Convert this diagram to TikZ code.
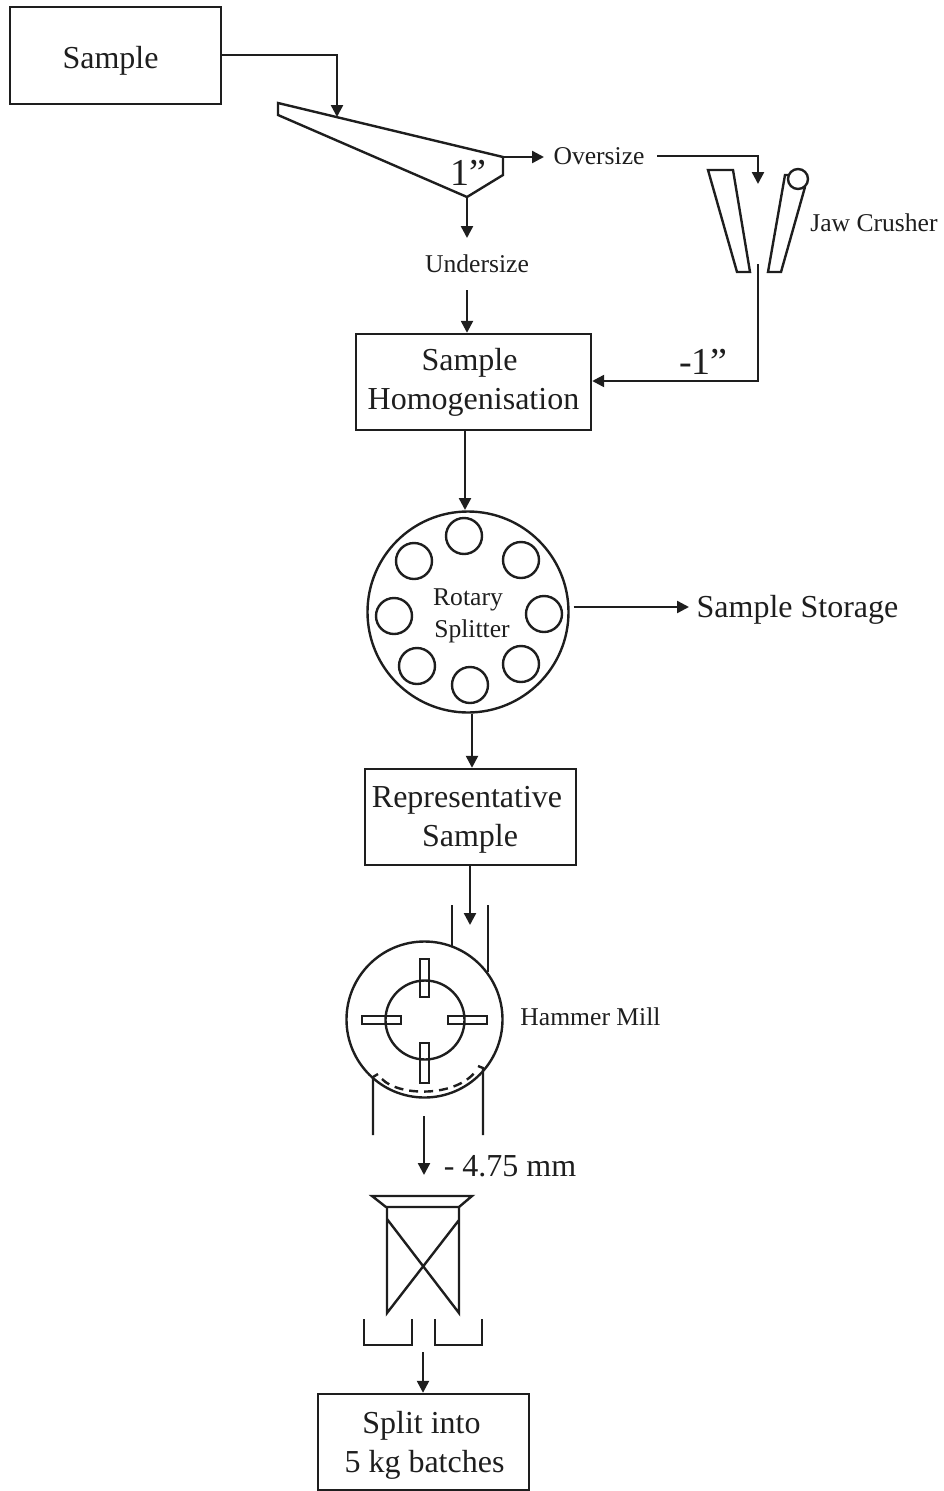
\documentclass[tikz,border=0pt]{standalone}
\usepackage{fontspec}
\setmainfont{Liberation Serif}
\usetikzlibrary{arrows.meta,calc}
\definecolor{ink}{HTML}{1E1E1E}
\tikzset{
 lw/.style={draw=ink,line width=2.4pt},
 flow/.style={lw,-{Triangle[length=12pt,width=12pt]}},
 boxnode/.style={lw,rectangle,inner sep=0pt,text=ink,font=\fontsize{32}{39}\selectfont,align=center},
 big/.style={text=ink,inner sep=0pt,font=\fontsize{32}{39}\selectfont,align=center},
 small/.style={text=ink,inner sep=0pt,font=\fontsize{25.6}{31}\selectfont,align=center},
 huge1/.style={text=ink,inner sep=0pt,font=\fontsize{38}{44}\selectfont},
 thinshape/.style={lw,line join=miter},
 pot/.style={lw,circle,inner sep=0pt,minimum size=36pt},
}
\begin{document}
\begin{tikzpicture}[x=1pt,y=-1pt]
\useasboundingbox (0,0) rectangle (944,1491);
% boxes
\node[boxnode,minimum width=211pt,minimum height=97pt] (sample) at (115.5,55.5) {};
\node[big] (sampletxt) at (110.5,61) {Sample};
\node[boxnode,minimum width=235pt,minimum height=96pt] (homog) at (473.5,382) {};
\node[big] (homogtxt) at (473.5,382.5) {\hspace{-8pt}Sample\\Homogenisation};
\node[boxnode,minimum width=211pt,minimum height=96pt] (rep) at (470.5,817) {};
\node[big] (reptxt) at (467,820) {Representative\\\hspace{6pt}Sample};
\node[boxnode,minimum width=211pt,minimum height=96pt] (split) at (423.5,1442) {};
\node[big] (splittxt) at (424.5,1445) {\hspace{-6pt}Split into\\5 kg batches};
% labels
\node[small] (over) at (599,156) {Oversize};
\node[small] (under) at (477,264) {Undersize};
\node[small] (jaw) at (874,223) {Jaw Crusher};
\node[small] (hammer) at (590.5,1017) {Hammer Mill};
\node[big] (store) at (797.5,610) {Sample Storage};
\node[big] (mm) at (510,1166) {- 4.75 mm};
\node[huge1] (one) at (468.5,173) {1”};
\node[huge1] (minus) at (703.5,362) {-1”};
% screen
\coordinate (sA) at (278,103); \coordinate (sB) at (503,157);
\coordinate (sC) at (503,175); \coordinate (sD) at (467,197);
\coordinate (sE) at (278,115); \coordinate (sIn) at (337,117);
\draw[thinshape] (sA) -- (sB) -- (sC) -- (sD) -- (sE) -- cycle;
\draw[flow] (sample.east |- 0,55) -- (337,55) -- (sIn);
\coordinate (sUnder) at (467,238);
\draw[flow] (sD) -- (sUnder);
\coordinate (sOver) at (544,157);
\draw[flow] (sB) -- (sOver);
\coordinate (uOut) at (467,290);
\draw[flow] (uOut) -- (homog.north -| uOut);
% jaw crusher
\draw[thinshape] (708,170) -- (733,170) -- (750,272) -- (737,272) -- cycle;
\draw[thinshape] (788,175) -- (785,175) -- (768,272) -- (781,272) -- (805,187);
\node[lw,circle,inner sep=0pt,minimum size=20pt,fill=white] (roll) at (798,179) {};
\coordinate (oOut) at (657,156); \coordinate (jIn) at (758,184);
\draw[flow] (oOut) -- (758,156) -- (jIn);
\coordinate (jOut) at (758,264);
\draw[flow] (jOut) -- (758,381) -- (homog.east |- 0,381);
% rotary splitter
\node[lw,circle,inner sep=0pt,minimum size=201pt] (rotary) at (468,612) {};
\node[pot] (p1) at (464,536) {};
\node[pot] (p2) at (521,560) {};
\node[pot] (p3) at (544,614) {};
\node[pot] (p4) at (521,664) {};
\node[pot] (p5) at (470,685) {};
\node[pot] (p6) at (417,666) {};
\node[pot] (p7) at (394,616) {};
\node[pot] (p8) at (414,561) {};
\node[small] (rt) at (468,600) {Rotary};
\node[small] (st) at (472,631) {Splitter};
\coordinate (rIn) at (465,510);
\draw[flow] (homog.south -| rIn) -- (rIn);
\coordinate (stEnd) at (689,607);
\draw[flow,shorten <=4pt] (rotary.east |- stEnd) -- (stEnd);
\draw[flow] (rotary.south -| 472,0) -- (rep.north -| 472,0);
% hammer mill
\coordinate (hIn) at (470,925);
\draw[flow] (rep.south -| hIn) -- (hIn);
\draw[lw] (452,905) -- (452,947);
\draw[lw] (488,905) -- (488,972);
\node[lw,circle,inner sep=0pt,minimum size=156pt] (mill) at (424.5,1019.5) {};
\node[lw,circle,inner sep=0pt,minimum size=79pt] (rotor) at (425,1020) {};
\draw[lw] (420,959) rectangle (429,997);
\draw[lw] (420,1043) rectangle (429,1083);
\draw[lw] (362,1016) rectangle (401,1024);
\draw[lw] (448,1016) rectangle (487,1024);
\draw[lw,dash pattern=on 9pt off 6pt] (382,1079) .. controls (398,1096) and (455,1098) .. (476,1071);
\draw[lw] (373,1135) -- (373,1077) -- (378,1074);
\draw[lw] (483,1135) -- (483,1068) -- (478,1066);
\coordinate (mOut) at (424,1116); \coordinate (mEnd) at (424,1175);
\draw[flow] (mOut) -- (mEnd);
% splitter
\draw[thinshape] (372,1196) -- (472,1196) -- (459,1207) -- (386,1207) -- cycle;
\draw[thinshape] (387,1207) -- (387,1313) -- (459,1220) (459,1207) -- (459,1313) -- (387,1219);
\draw[lw] (364,1319) -- (364,1345) -- (412,1345) -- (412,1319);
\draw[lw] (435,1319) -- (435,1345) -- (482,1345) -- (482,1319);
\coordinate (bOut) at (423,1352);
\draw[flow] (bOut) -- (split.north -| bOut);
\end{tikzpicture}
\end{document}
